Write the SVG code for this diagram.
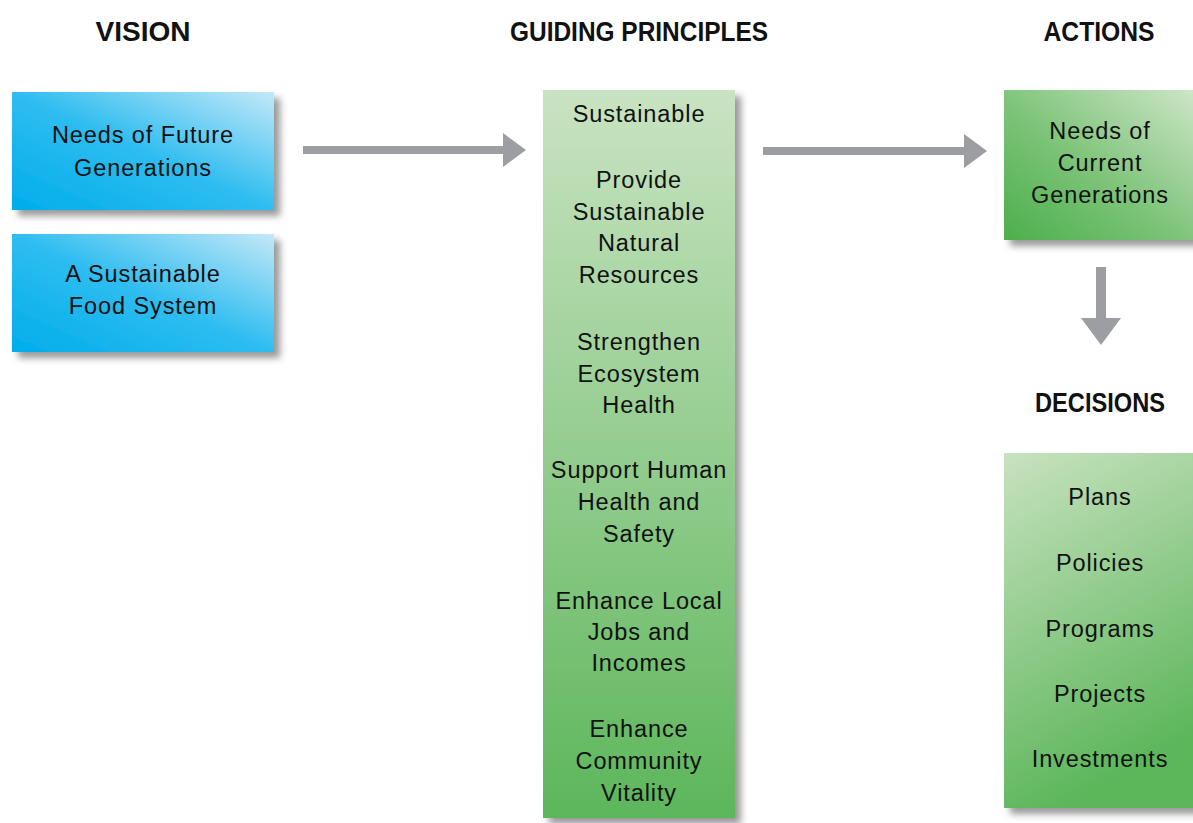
<svg xmlns="http://www.w3.org/2000/svg" width="1193" height="823" viewBox="0 0 1193 823">
<defs>
<linearGradient id="blue" x1="0" y1="1" x2="1" y2="0">
<stop offset="0" stop-color="#00adeb"/>
<stop offset="0.5" stop-color="#2fbdf0"/>
<stop offset="1" stop-color="#c4e8f8"/>
</linearGradient>
<linearGradient id="greenV" x1="0" y1="0" x2="0" y2="1">
<stop offset="0" stop-color="#c9e3c2"/>
<stop offset="1" stop-color="#5db65b"/>
</linearGradient>
<linearGradient id="greenD" x1="0" y1="1" x2="1" y2="0">
<stop offset="0" stop-color="#4caf4c"/>
<stop offset="0.45" stop-color="#7cc378"/>
<stop offset="1" stop-color="#cfe6c9"/>
</linearGradient>
<linearGradient id="greenV2" x1="0" y1="0" x2="0.3" y2="1">
<stop offset="0" stop-color="#c8e2c0"/>
<stop offset="1" stop-color="#5cb65a"/>
</linearGradient>
<filter id="sh" x="-10%" y="-10%" width="130%" height="130%">
<feGaussianBlur in="SourceAlpha" stdDeviation="3.5"/>
<feOffset dx="6" dy="6" result="b"/>
<feFlood flood-color="#000" flood-opacity="0.4"/>
<feComposite in2="b" operator="in"/>
<feMerge><feMergeNode/><feMergeNode in="SourceGraphic"/></feMerge>
</filter>
</defs>
<style>
.hd{font-family:"Liberation Sans",Arial,sans-serif;font-weight:bold;font-size:27px;fill:#111;text-anchor:middle}
.t{font-family:"Liberation Sans",Arial,sans-serif;font-size:23.5px;letter-spacing:0.9px;fill:#111;text-anchor:middle}
.arr{fill:#9d9ea1}
</style>
<text class="hd" x="143" y="41" textLength="95" lengthAdjust="spacingAndGlyphs">VISION</text>
<text class="hd" x="639" y="41" textLength="258" lengthAdjust="spacingAndGlyphs">GUIDING PRINCIPLES</text>
<text class="hd" x="1099" y="41" textLength="111" lengthAdjust="spacingAndGlyphs">ACTIONS</text>
<text class="hd" x="1100" y="412" textLength="130" lengthAdjust="spacingAndGlyphs">DECISIONS</text>

<g id="connectors">
<path class="arr" d="M303,146 L503,146 L503,133 L526,150 L503,167 L503,154 L303,154 Z"/>
<path class="arr" d="M763,147 L964,147 L964,134 L987,151 L964,168 L964,155 L763,155 Z"/>
<path class="arr" d="M1096,267 L1106,267 L1106,318 L1121,318 L1101,345 L1081,318 L1096,318 Z"/>
</g>

<g id="vision1">
<rect x="12" y="92" width="262" height="118" fill="url(#blue)" filter="url(#sh)"/>
<text class="t" x="143" y="143">Needs of Future</text>
<text class="t" x="143" y="176">Generations</text>
</g>
<g id="vision2">
<rect x="12" y="234" width="262" height="118" fill="url(#blue)" filter="url(#sh)"/>
<text class="t" x="143" y="282">A Sustainable</text>
<text class="t" x="143" y="314">Food System</text>
</g>

<g id="principles">
<rect x="543" y="90" width="192" height="728" fill="url(#greenV)" filter="url(#sh)"/>
<text class="t" x="639" y="122">Sustainable</text>
<text class="t" x="639" y="188">Provide</text>
<text class="t" x="639" y="220">Sustainable</text>
<text class="t" x="639" y="251">Natural</text>
<text class="t" x="639" y="283">Resources</text>
<text class="t" x="639" y="350">Strengthen</text>
<text class="t" x="639" y="382">Ecosystem</text>
<text class="t" x="639" y="413">Health</text>
<text class="t" x="639" y="478">Support Human</text>
<text class="t" x="639" y="510">Health and</text>
<text class="t" x="639" y="542">Safety</text>
<text class="t" x="639" y="609">Enhance Local</text>
<text class="t" x="639" y="640">Jobs and</text>
<text class="t" x="639" y="671">Incomes</text>
<text class="t" x="639" y="737">Enhance</text>
<text class="t" x="639" y="769">Community</text>
<text class="t" x="639" y="801">Vitality</text>
</g>

<g id="actions">
<rect x="1004" y="90" width="194" height="150" fill="url(#greenD)" filter="url(#sh)"/>
<text class="t" x="1100" y="139">Needs of</text>
<text class="t" x="1100" y="171">Current</text>
<text class="t" x="1100" y="203">Generations</text>
</g>

<g id="decisions">
<rect x="1004" y="453" width="194" height="355" fill="url(#greenV2)" filter="url(#sh)"/>
<text class="t" x="1100" y="505">Plans</text>
<text class="t" x="1100" y="571">Policies</text>
<text class="t" x="1100" y="637">Programs</text>
<text class="t" x="1100" y="702">Projects</text>
<text class="t" x="1100" y="767">Investments</text>
</g>
</svg>
